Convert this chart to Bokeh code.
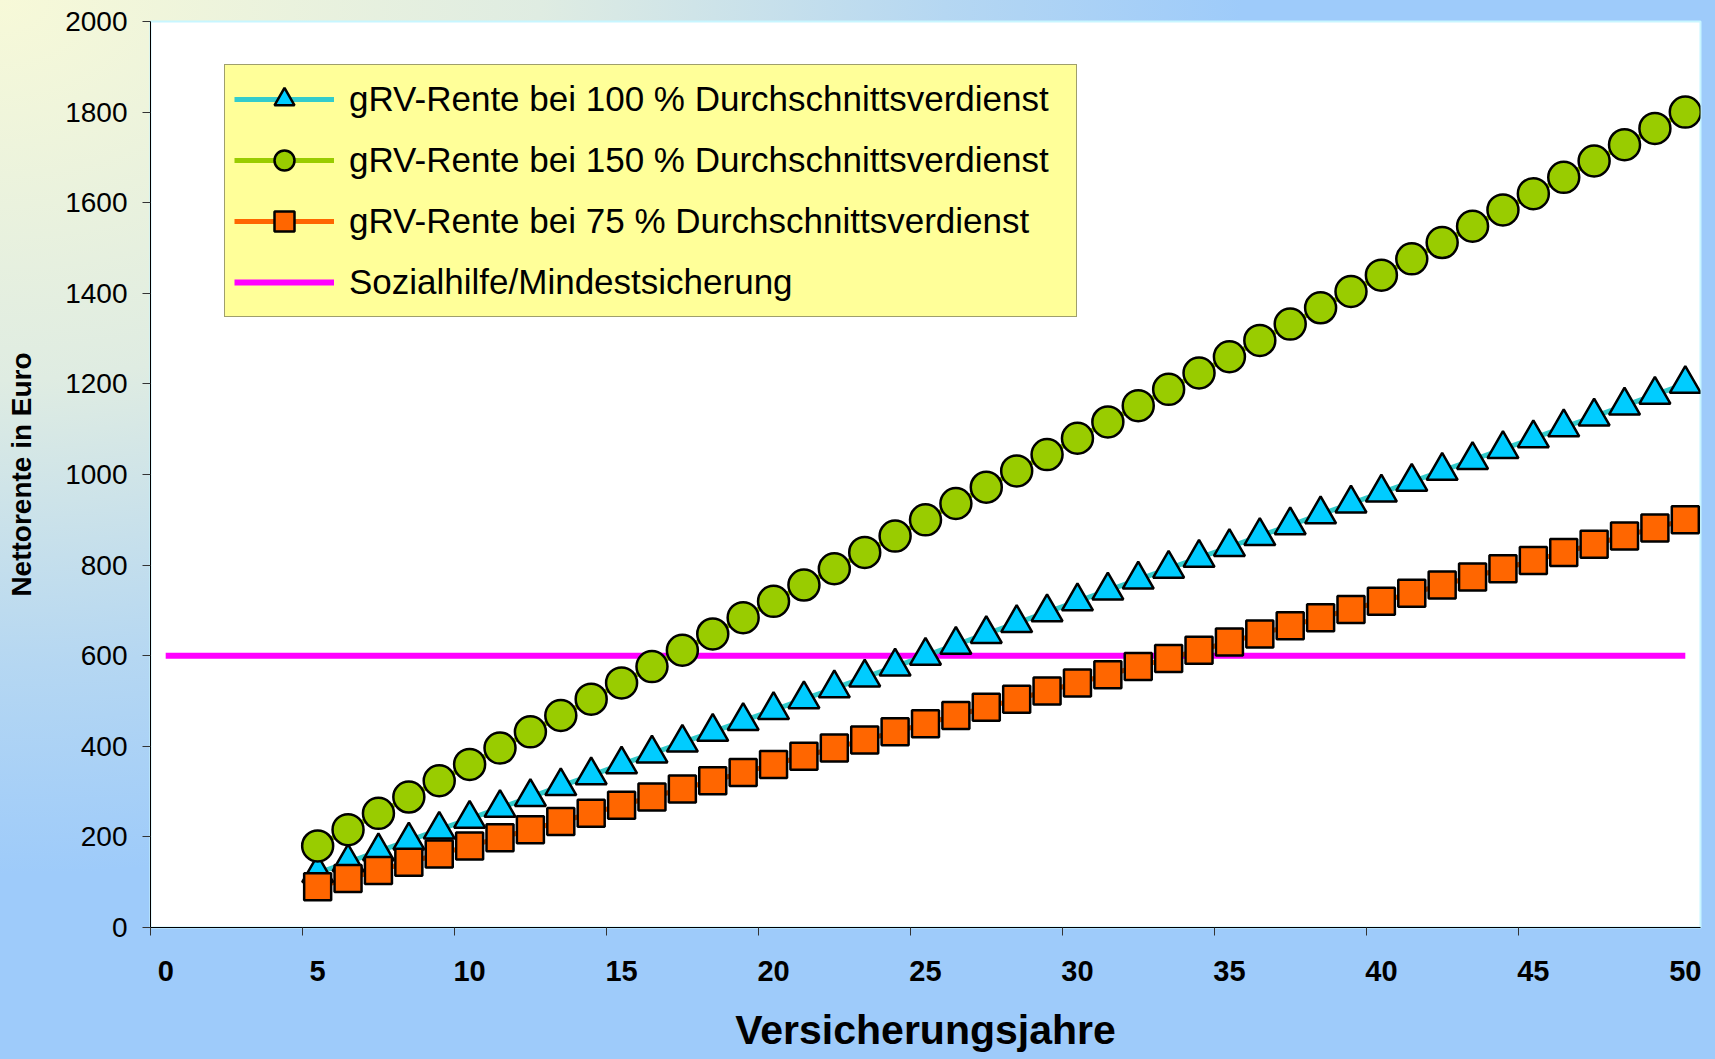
from bokeh.plotting import figure
from bokeh.models import FixedTicker, LinearAxis, Legend, LegendItem, Range1d
from bokeh.embed import file_html
from bokeh.resources import INLINE

# ---------------- data ----------------
jahre = list(range(5, 51))  # Versicherungsjahre 5..50
rente_100 = [120, 144, 168, 192, 216, 240, 264, 288, 312, 336, 360, 384, 408, 432, 456, 480,
             504, 528, 552, 576, 600, 624, 648, 672, 696, 720, 744, 768, 792, 816, 840, 864,
             888, 912, 936, 960, 984, 1008, 1032, 1056, 1080, 1104, 1128, 1152, 1176, 1200]
rente_150 = [180, 216, 252, 288, 324, 360, 396, 432, 468, 504, 540, 576, 612, 648, 684, 720,
             756, 792, 828, 864, 900, 936, 972, 1008, 1044, 1080, 1116, 1152, 1188, 1224, 1260, 1296,
             1332, 1368, 1404, 1440, 1476, 1512, 1548, 1584, 1620, 1656, 1692, 1728, 1764, 1800]
rente_75 = [90, 108, 126, 144, 162, 180, 198, 216, 234, 252, 270, 288, 306, 324, 342, 360,
            378, 396, 414, 432, 450, 468, 486, 504, 522, 540, 558, 576, 594, 612, 630, 648,
            666, 684, 702, 720, 738, 756, 774, 792, 810, 828, 846, 864, 882, 900]
sozial_jahre = [0, 50]
sozialhilfe = [600, 600]

x_labels = [0, 5, 10, 15, 20, 25, 30, 35, 40, 45, 50]
y_ticks = [0, 200, 400, 600, 800, 1000, 1200, 1400, 1600, 1800, 2000]

label_100 = "gRV-Rente bei 100 % Durchschnittsverdienst"
label_150 = "gRV-Rente bei 150 % Durchschnittsverdienst"
label_75 = "gRV-Rente bei 75 % Durchschnittsverdienst"
label_soz = "Sozialhilfe/Mindestsicherung"

FONT = "Liberation Sans"

p = figure(width=1715, height=1059,
           x_range=Range1d(-0.5, 50.5), y_range=Range1d(0, 2000),
           output_backend="svg", toolbar_location=None,
           min_border_left=150, min_border_right=15, min_border_top=21, min_border_bottom=132)
p.border_fill_color = None
p.background_fill_color = "white"
p.outline_line_color = "#c8f6ff"
p.outline_line_width = 2
p.styles = {"background": "radial-gradient(ellipse 1350px 950px at 0px 0px, #f7f9d8 0%, #dfece2 40%, #b5d7f2 70%, #9ecbfa 92%)"}
p.xgrid.visible = False
p.ygrid.visible = False

# ---- series ----
pink = p.line(sozial_jahre, sozialhilfe, line_color="#ff00ff", line_width=6)
l100 = p.line(jahre, rente_100, line_color="#33cccc", line_width=5, line_join="round")
l150 = p.line(jahre, rente_150, line_color="#99cc00", line_width=5, line_join="round")
l75 = p.line(jahre, rente_75, line_color="#ff6600", line_width=5, line_join="round")
m100 = p.scatter(jahre, rente_100, marker="triangle", size=31, fill_color="#00ccff",
                 line_color="black", line_width=2.5)
m150 = p.scatter(jahre, rente_150, marker="circle", size=31, fill_color="#99cc00",
                 line_color="black", line_width=2.5)
m75 = p.scatter(jahre, rente_75, marker="square", size=27, fill_color="#ff6600",
                line_color="black", line_width=2.5)

# ---- x axis: tick marks at category borders ----
xa = p.xaxis[0]
xa.ticker = FixedTicker(ticks=[v - 0.5 for v in x_labels[:-1]])
xa.major_label_text_font_size = "0px"
xa.major_label_text_alpha = 0
xa.major_label_standoff = 0
xa.major_tick_out = 8
xa.major_tick_in = 0
xa.minor_tick_line_color = None
xa.axis_line_color = "black"
xa.major_tick_line_color = "#333333"

# ---- x axis: labels at category centres ----
xl = LinearAxis(ticker=FixedTicker(ticks=x_labels))
xl.axis_line_color = None
xl.major_tick_line_color = None
xl.minor_tick_line_color = None
xl.major_label_text_font = FONT
xl.major_label_text_font_style = "bold"
xl.major_label_text_font_size = "29px"
xl.major_label_text_color = "black"
xl.major_label_standoff = 19
xl.axis_label = "Versicherungsjahre"
xl.axis_label_text_font = FONT
xl.axis_label_text_font_style = "bold"
xl.axis_label_text_font_size = "41px"
xl.axis_label_text_color = "black"
xl.axis_label_standoff = 23
p.add_layout(xl, "below")

# ---- y axis ----
ya = p.yaxis[0]
ya.ticker = FixedTicker(ticks=y_ticks)
ya.major_tick_out = 8
ya.major_tick_in = 0
ya.minor_tick_line_color = None
ya.axis_line_color = "black"
ya.major_tick_line_color = "#333333"
ya.major_label_text_font = FONT
ya.major_label_text_font_size = "28px"
ya.major_label_text_color = "black"
ya.major_label_standoff = 15
ya.axis_label = "Nettorente in Euro"
ya.axis_label_text_font = FONT
ya.axis_label_text_font_style = "bold"
ya.axis_label_text_font_size = "28px"
ya.axis_label_text_color = "black"
ya.axis_label_standoff = 25

# ---- legend ----
legend = Legend(items=[
    LegendItem(label=label_100, renderers=[l100, m100]),
    LegendItem(label=label_150, renderers=[l150, m150]),
    LegendItem(label=label_75, renderers=[l75, m75]),
    LegendItem(label=label_soz, renderers=[pink]),
], location=(74, 610))
legend.padding = 9
legend.spacing = 11
legend.margin = 0
legend.glyph_width = 100
legend.glyph_height = 50
legend.label_height = 50
legend.label_width = 718
legend.label_standoff = 15
legend.label_text_font = FONT
legend.label_text_font_size = "35px"
legend.label_text_color = "black"
legend.background_fill_color = "#ffff99"
legend.background_fill_alpha = 1
legend.border_line_color = "#404040"
legend.border_line_width = 1.5
p.add_layout(legend)

open("out.html", "w").write(file_html(p, INLINE))
